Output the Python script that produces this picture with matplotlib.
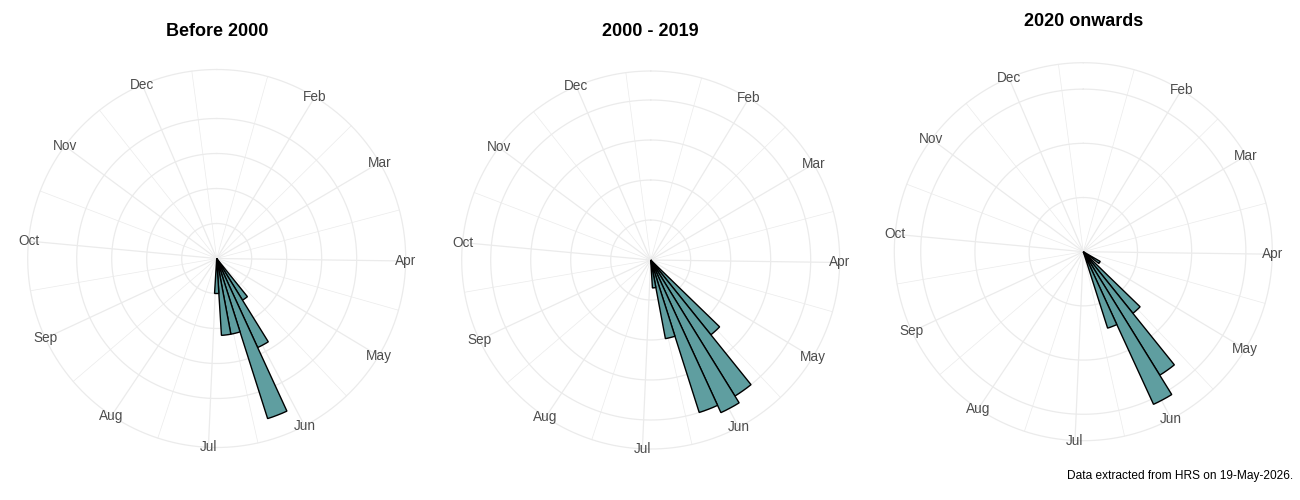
import numpy as np
import matplotlib
matplotlib.use("Agg")
import matplotlib.pyplot as plt

plt.rcParams['font.family'] = ['Liberation Sans', 'DejaVu Sans']

# ---------------- data ----------------
month_names = ["Jan", "Feb", "Mar", "Apr", "May", "Jun",
               "Jul", "Aug", "Sep", "Oct", "Nov", "Dec"]
month_start_doy = [1, 32, 60, 91, 121, 152, 182, 213, 244, 274, 305, 335]

panel_titles = ["Before 2000", "2000 - 2019", "2020 onwards"]

weeks_before_2000 = [21, 22, 23, 24, 25, 26]
counts_before_2000 = [7, 14, 24, 11, 11, 5]

weeks_2000_2019 = [20, 21, 22, 23, 24, 25]
counts_2000_2019 = [24, 40, 42, 40, 20, 7]

weeks_2020_on = [18, 20, 21, 22, 23]
counts_2020_on = [1.8, 7.3, 13.4, 15.5, 7.4]

caption = "Data extracted from HRS on 19-May-2026."

# ---------------- styling / layout ----------------
W, H = 1300, 500
R_PX = 189                       # outer grid circle radius in pixels
centres = [(216.7, 258.5), (650.7, 260.0), (1083.3, 251.7)]
title_y = [31, 31, 22]
BAR_COLOR = "#5F9EA0"
GRID = "#EBEBEB"
LABEL_COLOR = "#4D4D4D"

THETA_START = 1      # day of year at the top of the circle
THETA_SPAN = 357     # days covered by the full circle


def doy_to_theta(d):
    return (np.asarray(d, float) - THETA_START) / THETA_SPAN * 2 * np.pi


def week_centre_doy(w):
    return 7 * (np.asarray(w, float) - 1) + 4.5


def nice_step(vmax, target=4):
    raw = vmax / target
    e = np.floor(np.log10(raw))
    cands = np.array([1, 2, 5, 10]) * 10 ** e
    return cands[np.argmin(np.abs(np.log(cands / raw)))]


fig = plt.figure(figsize=(W / 100, H / 100), dpi=100)

series = [(weeks_before_2000, counts_before_2000),
          (weeks_2000_2019, counts_2000_2019),
          (weeks_2020_on, counts_2020_on)]

for (weeks, counts), title, (cx, cy), ty in zip(series, panel_titles, centres, title_y):
    ax = fig.add_axes([(cx - R_PX) / W, (H - cy - R_PX) / H, 2 * R_PX / W, 2 * R_PX / H],
                      projection='polar')
    ax.set_theta_zero_location('N')
    ax.set_theta_direction(-1)
    vmax = max(counts)
    r_outer = vmax * 0.45 / 0.4
    ax.set_ylim(0, r_outer)
    ax.set_xticks([])
    ax.set_yticks([])
    ax.grid(False)
    ax.spines['polar'].set_visible(False)
    ax.patch.set_alpha(0)

    # circles
    tf = np.linspace(0, 2 * np.pi, 400)
    step = nice_step(vmax)
    radii = list(np.arange(step, vmax + 1e-9, step)) + [r_outer]
    for r in radii:
        ax.plot(tf, np.full_like(tf, r), color=GRID, lw=0.9, zorder=1, clip_on=False)

    # minor spokes (midpoints between month starts, incl. wrap to next Jan)
    ext = month_start_doy + [366]
    minor_doy = [(a + b) / 2 for a, b in zip(ext[:-1], ext[1:])]
    for t in doy_to_theta(minor_doy):
        ax.plot([t, t], [0, r_outer], color=GRID, lw=0.5, zorder=1, clip_on=False)

    # major spokes + labels (Feb..Dec)
    for name, t in zip(month_names[1:], doy_to_theta(month_start_doy[1:])):
        ax.plot([t, t], [0, r_outer], color=GRID, lw=0.9, zorder=1, clip_on=False)
        ax.text(t, r_outer, name, ha='center', va='center', fontsize=9.8,
                color=LABEL_COLOR, zorder=5)

    ax.bar(doy_to_theta(week_centre_doy(weeks)), counts,
           width=7 / THETA_SPAN * 2 * np.pi, bottom=0,
           color=BAR_COLOR, edgecolor='black', linewidth=1.0, zorder=3)

    fig.text(cx / W, 1 - ty / H, title, ha='center', va='center',
             fontsize=13, fontweight='bold')

fig.text(1293 / W, 1 - 476 / H, caption, ha='right', va='center', fontsize=8.6)

fig.savefig("out.png", dpi=100)
